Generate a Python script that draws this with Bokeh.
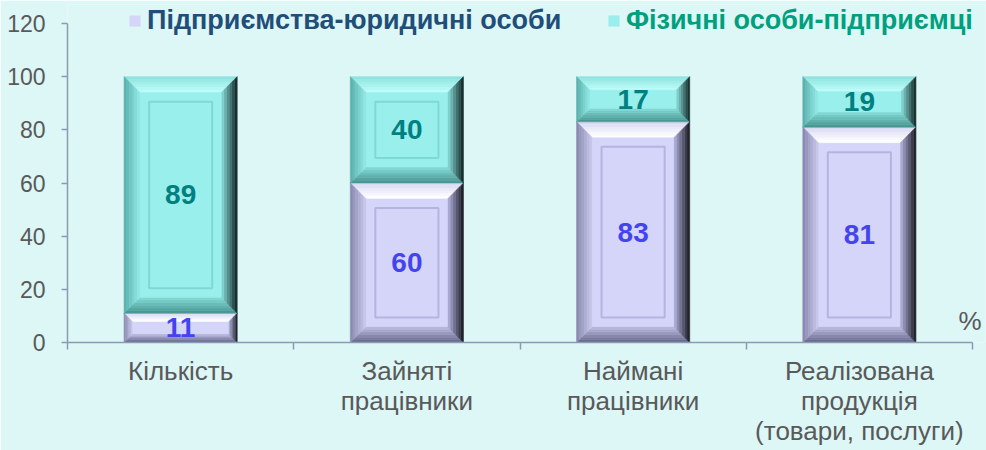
from bokeh.plotting import figure
from bokeh.models import (ColumnDataSource, FixedTicker, Legend, LegendItem,
                          Label, Range1d)
from bokeh.core.properties import value
from bokeh.embed import file_html
from bokeh.resources import INLINE

# ---------------- data ----------------
categories = ["Кількість", "Зайняті\nпрацівники", "Наймані\nпрацівники",
              "Реалізована\nпродукція\n(товари, послуги)"]
legal_entities = [11, 60, 83, 81]            # Підприємства-юридичні особи
individual_entrepreneurs = [89, 40, 17, 19]  # Фізичні особи-підприємці
series_names = ["Підприємства-юридичні особи", "Фізичні особи-підприємці"]
y_ticks = [0, 20, 40, 60, 80, 100, 120]
unit_label = "%"

# ---------------- style ----------------
FONT = "Liberation Sans"
BG = "#DDF6F6"
AXIS = "#8A9CB4"
TICK_TXT = "#595959"
N = len(categories)
Y_MAX = 120
PLOT_W, PLOT_H = 905, 319     # pixels covered by x 0..N and y 0..Y_MAX
EXTRA_R, EXTRA_T = 13, 19     # room for the unit label and legend
BAR_W = 0.5
SX = PLOT_W / N
SY = PLOT_H / Y_MAX

STYLES = {
    "purple": dict(face="#D5D5FA", panel_line="#B4B4DE",
                   top=("#DADAF4", "#FFFFFF"), left=("#8C8CB2", "#C6C6EA"),
                   bottom=("#6A6A8E", "#B6B6DC"), right=("#22222C", "#A8A8D2"),
                   label="#4444EE", legend_txt="#1F4E79"),
    "teal": dict(face="#99EFEC", panel_line="#80D8D4",
                 top=("#90E4E0", "#BAFCF9"), left=("#5CB2AE", "#8EE6E2"),
                 bottom=("#4A9894", "#80D6D2"), right=("#183030", "#7ED0CC"),
                 label="#008080", legend_txt="#00A07E"),
}
ORDER = ["purple", "teal"]


def hex2rgb(h):
    h = h.lstrip("#")
    return tuple(int(h[i:i + 2], 16) for i in (0, 2, 4))


def mix(c0, c1, t):
    a, b = hex2rgb(c0), hex2rgb(c1)
    return "#%02x%02x%02x" % tuple(round(a[i] + (b[i] - a[i]) * t) for i in range(3))


px, py, pc = [], [], []
faces = {k: dict(l=[], r=[], b=[], t=[]) for k in ORDER}
ix0, ix1, iy0, iy1, ic = [], [], [], [], []


def add_segment(i, y0, y1, key):
    st = STYLES[key]
    cx = i + 0.5
    x0, x1 = cx - BAR_W / 2, cx + BAR_W / 2
    h_px = (y1 - y0) * SY
    b = min(16.0, 0.3 * h_px)
    n = 6
    for k in range(n):
        d0, d1 = b * k / n, b * (k + 1) / n
        t = k / (n - 1)
        a0x, a1x = d0 / SX, d1 / SX
        a0y, a1y = d0 / SY, d1 / SY
        px.append([x0 + a0x, x1 - a0x, x1 - a1x, x0 + a1x])
        py.append([y1 - a0y, y1 - a0y, y1 - a1y, y1 - a1y])
        pc.append(mix(*st["top"], t))
        px.append([x0 + a0x, x1 - a0x, x1 - a1x, x0 + a1x])
        py.append([y0 + a0y, y0 + a0y, y0 + a1y, y0 + a1y])
        pc.append(mix(*st["bottom"], t))
        px.append([x0 + a0x, x0 + a0x, x0 + a1x, x0 + a1x])
        py.append([y0 + a0y, y1 - a0y, y1 - a1y, y0 + a1y])
        pc.append(mix(*st["left"], t))
        px.append([x1 - a0x, x1 - a0x, x1 - a1x, x1 - a1x])
        py.append([y0 + a0y, y1 - a0y, y1 - a1y, y0 + a1y])
        pc.append(mix(*st["right"], t))
    f = faces[key]
    f["l"].append(x0 + b / SX); f["r"].append(x1 - b / SX)
    f["b"].append(y0 + b / SY); f["t"].append(y1 - b / SY)
    if h_px > 70:
        g = b + 9
        ix0.append(x0 + g / SX); ix1.append(x1 - g / SX)
        iy0.append(y0 + g / SY); iy1.append(y1 - g / SY)
        ic.append(st["panel_line"])


lab_x, lab_y, lab_t, lab_c = [], [], [], []
for i in range(N):
    a = legal_entities[i]
    b_ = individual_entrepreneurs[i]
    add_segment(i, 0, a, "purple")
    add_segment(i, a, a + b_, "teal")
    lab_x += [i + 0.5, i + 0.5]
    lab_y += [a / 2, a + b_ / 2]
    lab_t += [str(a), str(b_)]
    lab_c += [STYLES["purple"]["label"], STYLES["teal"]["label"]]

p = figure(frame_width=PLOT_W + EXTRA_R, frame_height=PLOT_H + EXTRA_T,
           x_range=Range1d(0, N + EXTRA_R / SX),
           y_range=Range1d(0, Y_MAX + EXTRA_T / SY),
           output_backend="svg", toolbar_location=None,
           min_border_left=67, min_border_right=1, min_border_top=4,
           min_border_bottom=108,
           background_fill_color=BG, border_fill_color=BG,
           outline_line_color=None)

p.patches(xs="xs", ys="ys", fill_color="c", line_color="c", line_width=0.6,
          source=ColumnDataSource(dict(xs=px, ys=py, c=pc)))
face_r = {}
for key in ORDER:
    face_r[key] = p.quad(left="l", right="r", bottom="b", top="t",
                         fill_color=STYLES[key]["face"],
                         line_color=STYLES[key]["face"], line_width=0.6,
                         source=ColumnDataSource(faces[key]))
p.quad(left="l", right="r", bottom="b", top="t", fill_color=None, line_color="c",
       line_width=2,
       source=ColumnDataSource(dict(l=ix0, r=ix1, b=iy0, t=iy1, c=ic)))

p.text(x="x", y="y", text="t", text_color="c",
       source=ColumnDataSource(dict(x=lab_x, y=lab_y, t=lab_t, c=lab_c)),
       text_font=value(FONT), text_font_style="bold", text_font_size="28px",
       text_align="center", text_baseline="middle")

# axes
p.xgrid.visible = False
p.ygrid.visible = False
xa = p.xaxis[0]
xa.bounds = (0, N)
xa.ticker = FixedTicker(ticks=[i + 0.5 for i in range(N)],
                        minor_ticks=list(range(N + 1)))
xa.major_label_overrides = {i + 0.5: c for i, c in enumerate(categories)}
xa.major_tick_out = 0
xa.major_tick_in = 0
xa.minor_tick_out = 7
xa.minor_tick_in = 0
xa.minor_tick_line_color = AXIS
xa.minor_tick_line_width = 1.5
xa.axis_line_color = AXIS
xa.axis_line_width = 1.5
xa.major_label_text_font = FONT
xa.major_label_text_font_size = "26px"
xa.major_label_text_line_height = 1.0
xa.major_label_text_color = TICK_TXT
xa.major_label_standoff = 6

ya = p.yaxis[0]
ya.bounds = (0, Y_MAX)
ya.ticker = FixedTicker(ticks=y_ticks, minor_ticks=[])
ya.major_tick_out = 6
ya.major_tick_in = 0
ya.minor_tick_out = 0
ya.major_tick_line_color = AXIS
ya.major_tick_line_width = 1.5
ya.axis_line_color = AXIS
ya.axis_line_width = 1.5
ya.major_label_text_font = FONT
ya.major_label_text_font_size = "23px"
ya.major_label_text_color = TICK_TXT
ya.major_label_standoff = 16

# legends (one per series so each keeps its own text colour)
leg_x = [61, 540]
for k, key in enumerate(ORDER):
    st = STYLES[key]
    leg = Legend(items=[LegendItem(label=series_names[k],
                                   renderers=[face_r[key]])],
                 location=(leg_x[k], 306), orientation="horizontal",
                 background_fill_alpha=0, border_line_color=None,
                 label_text_font=FONT, label_text_font_style="bold",
                 label_text_font_size="27px", label_text_color=st["legend_txt"],
                 glyph_width=13, glyph_height=13, label_standoff=6,
                 padding=0, margin=0, spacing=0)
    p.add_layout(leg, "center")

p.add_layout(Label(x=N, y=0, x_offset=-14, y_offset=22, text=unit_label,
                   text_font=FONT, text_font_size="26px", text_color=TICK_TXT,
                   text_align="left", text_baseline="alphabetic"))

open("out.html", "w").write(file_html(p, INLINE))
